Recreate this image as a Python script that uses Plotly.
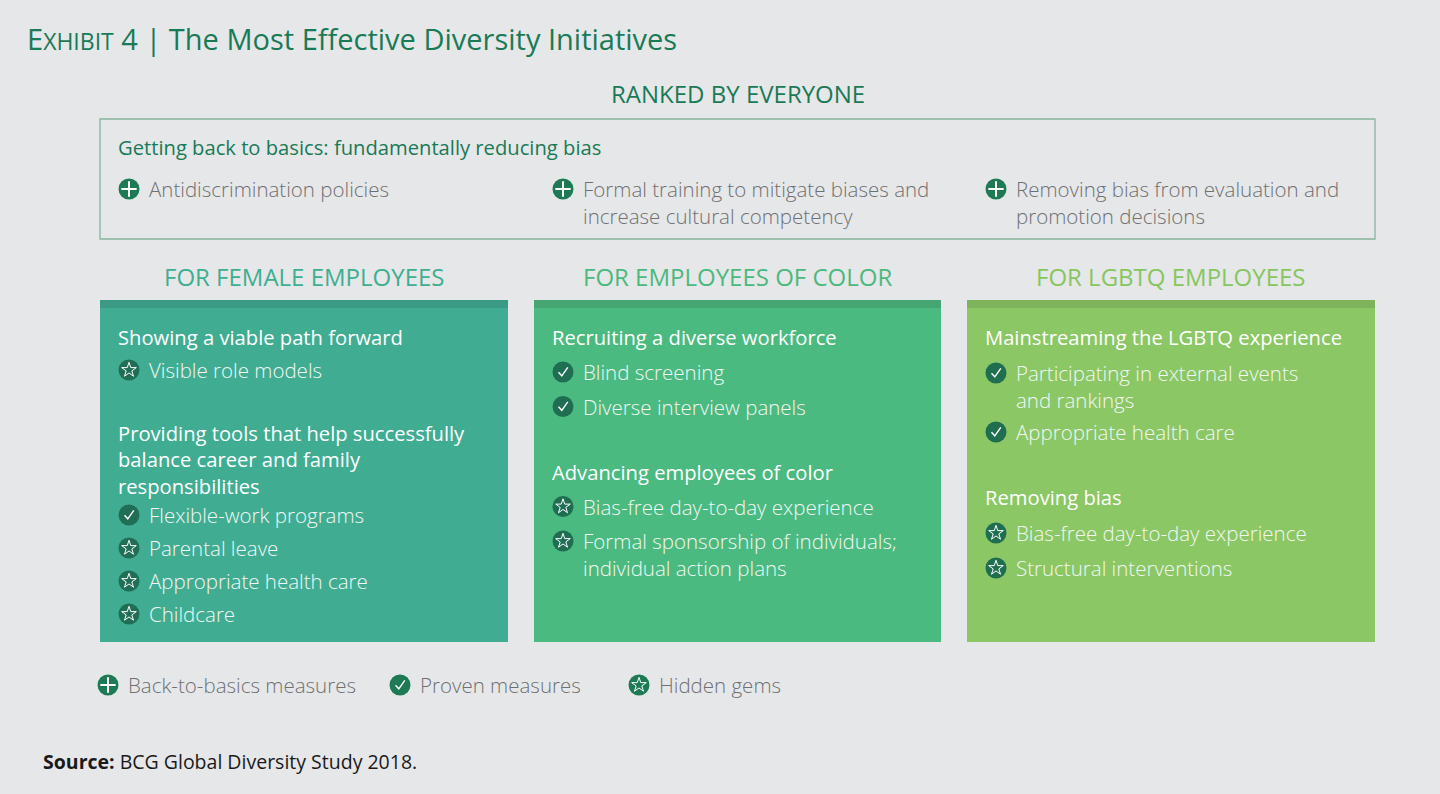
import plotly.graph_objects as go

# ---------------- data ----------------
title_prefix = "E"
title_smallcaps = "XHIBIT"
title_rest = " 4 | The Most Effective Diversity Initiatives"
ranked_label = "RANKED BY EVERYONE"
top_heading = "Getting back to basics: fundamentally reducing bias"
top_items = [
    ("plus", ["Antidiscrimination policies"]),
    ("plus", ["Formal training to mitigate biases and", "increase cultural competency"]),
    ("plus", ["Removing bias from evaluation and", "promotion decisions"]),
]
column_titles = ["FOR FEMALE EMPLOYEES", "FOR EMPLOYEES OF COLOR", "FOR LGBTQ EMPLOYEES"]
column_sections = [
    [
        (["Showing a viable path forward"], [("star", ["Visible role models"])]),
        (["Providing tools that help successfully", "balance career and family", "responsibilities"],
         [("check", ["Flexible-work programs"]), ("star", ["Parental leave"]),
          ("star", ["Appropriate health care"]), ("star", ["Childcare"])]),
    ],
    [
        (["Recruiting a diverse workforce"], [("check", ["Blind screening"]), ("check", ["Diverse interview panels"])]),
        (["Advancing employees of color"],
         [("star", ["Bias-free day-to-day experience"]),
          ("star", ["Formal sponsorship of individuals;", "individual action plans"])]),
    ],
    [
        (["Mainstreaming the LGBTQ experience"],
         [("check", ["Participating in external events", "and rankings"]), ("check", ["Appropriate health care"])]),
        (["Removing bias"],
         [("star", ["Bias-free day-to-day experience"]), ("star", ["Structural interventions"])]),
    ],
]
legend_items = [("plus", "Back-to-basics measures"), ("check", "Proven measures"), ("star", "Hidden gems")]
source_label = "Source:"
source_text = " BCG Global Diversity Study 2018."

# ---------------- style / layout ----------------
W, H = 1440, 794
BG = "#e6e7e9"
GREEN = "#197a56"
GRAY = "#6f7072"
FONT = "Open Sans"
ITEM = 20.5
HEAD = 20.2
CAPS = 24
col_fill = ["#40ad93", "#4bba80", "#8bc764"]
col_strip = ["#3a9a83", "#45a673", "#7eb25b"]
col_head = ["#3daf90", "#4bb97d", "#86c65f"]
col_icon = ["#1f6e55", "#1f6e52", "#1f6e50"]
col_x = [(100, 508), (534, 941), (967, 1375)]
box_top, box_bot = 300, 642
flow = [dict(g1=33, s=33, g2=63), dict(g1=35, s=34.5, g2=65), dict(g1=36, s=35, g2=65)]
LINE = 24.5

shapes, annotations = [], []
icons = {"plus": [], "check": [], "star": []}
icon_colors = []

def txt(x, y_first, lines, size, color, weight=400, anchor="left", family=FONT):
    """Multi-line text block whose first line is centred on y_first."""
    if isinstance(lines, str):
        lines = [lines]
    n = len(lines)
    lh = 1.3 * size
    y_mid = y_first + (n - 1) * lh / 2
    annotations.append(dict(x=x, y=y_mid, xref="x", yref="y", text="<br>".join(lines), showarrow=False,
                            xanchor=anchor, yanchor="middle", align="left",
                            font=dict(family=family, size=size, color=color, weight=weight)))

def icon(x, y, kind, color):
    icons[kind].append((x, y))
    icon_colors.append((x, y, color))

# title
txt(25, 38, f"{title_prefix}<span style='font-size:23px'>{title_smallcaps}</span>{title_rest}", 29, GREEN, 400)
txt(738, 93, ranked_label, CAPS, GREEN, 500, anchor="center")

# top box
shapes.append(dict(type="rect", xref="x", yref="y", x0=100, x1=1375, y0=119, y1=239,
                   line=dict(color="#86b59c", width=1.3), fillcolor="rgba(0,0,0,0)", layer="below"))
txt(116, 147, top_heading, HEAD, GREEN, 500)
top_x = [129, 563, 996]
for (kind, lines), ix in zip(top_items, top_x):
    icon(ix, 189, kind, "#1d7a55")
    txt(ix + 18, 189, lines, ITEM, GRAY, 300)

# columns
for c in range(3):
    x0, x1 = col_x[c]
    shapes.append(dict(type="rect", xref="x", yref="y", x0=x0, x1=x1, y0=box_top, y1=box_bot,
                       line=dict(width=0), fillcolor=col_fill[c], layer="below"))
    shapes.append(dict(type="rect", xref="x", yref="y", x0=x0, x1=x1, y0=box_top, y1=box_top + 8,
                       line=dict(width=0), fillcolor=col_strip[c], layer="below"))
    txt((x0 + x1) / 2, 276, column_titles[c], CAPS, col_head[c], 500, anchor="center")
    f = flow[c]
    y = 337
    for si, (head, items) in enumerate(column_sections[c]):
        if si > 0:
            y += f["g2"]
        txt(x0 + 16, y, head, HEAD, "#ffffff", 500)
        y += (len(head) - 1) * LINE
        for ii, (kind, lines) in enumerate(items):
            y += f["g1"] if ii == 0 else f["s"]
            icon(x0 + 29, y, kind, col_icon[c])
            txt(x0 + 47, y, lines, ITEM, "#f2f7f4", 300)
            y += (len(lines) - 1) * 24

# legend
leg_x = [108, 400, 639]
for (kind, label), lx in zip(legend_items, leg_x):
    icon(lx, 685, kind, "#1d7a55")
    txt(lx + 18, 685, label, ITEM, GRAY, 300)

txt(41, 761, f"<b>{source_label}</b>{source_text}", 19.5, "#1a1a1a", 400)

fig = go.Figure()
# icon circles
fig.add_trace(go.Scatter(x=[p[0] for p in icon_colors], y=[p[1] for p in icon_colors], mode="markers",
                         marker=dict(symbol="circle", size=21, color=[p[2] for p in icon_colors], line=dict(width=0)),
                         hoverinfo="skip", showlegend=False))
# plus
fig.add_trace(go.Scatter(x=[p[0] for p in icons["plus"]], y=[p[1] for p in icons["plus"]], mode="markers",
                         marker=dict(symbol="cross-thin", size=11, line=dict(color="white", width=2)),
                         hoverinfo="skip", showlegend=False))
# star
fig.add_trace(go.Scatter(x=[p[0] for p in icons["star"]], y=[p[1] for p in icons["star"]], mode="markers",
                         marker=dict(symbol="star-open", size=11, color="white", line=dict(color="white", width=1)),
                         hoverinfo="skip", showlegend=False))
# check marks as polylines
cx, cy = [], []
for (x, y) in icons["check"]:
    cx += [x - 4.5, x - 1.2, x + 4.8, None]
    cy += [y + 0.2, y + 3.8, y - 4.6, None]
fig.add_trace(go.Scatter(x=cx, y=cy, mode="lines", line=dict(color="white", width=1.4),
                         hoverinfo="skip", showlegend=False))

fig.update_layout(width=W, height=H, margin=dict(l=0, r=0, t=0, b=0),
                  paper_bgcolor=BG, plot_bgcolor=BG, shapes=shapes, annotations=annotations,
                  xaxis=dict(range=[0, W], visible=False, fixedrange=True),
                  yaxis=dict(range=[H, 0], visible=False, fixedrange=True),
                  showlegend=False)
fig.write_html("out.html", config={"displayModeBar": False},
               post_script="document.body.style.margin='0';document.body.style.overflow='hidden';"
                           "document.body.style.background='#e6e7e9';")
